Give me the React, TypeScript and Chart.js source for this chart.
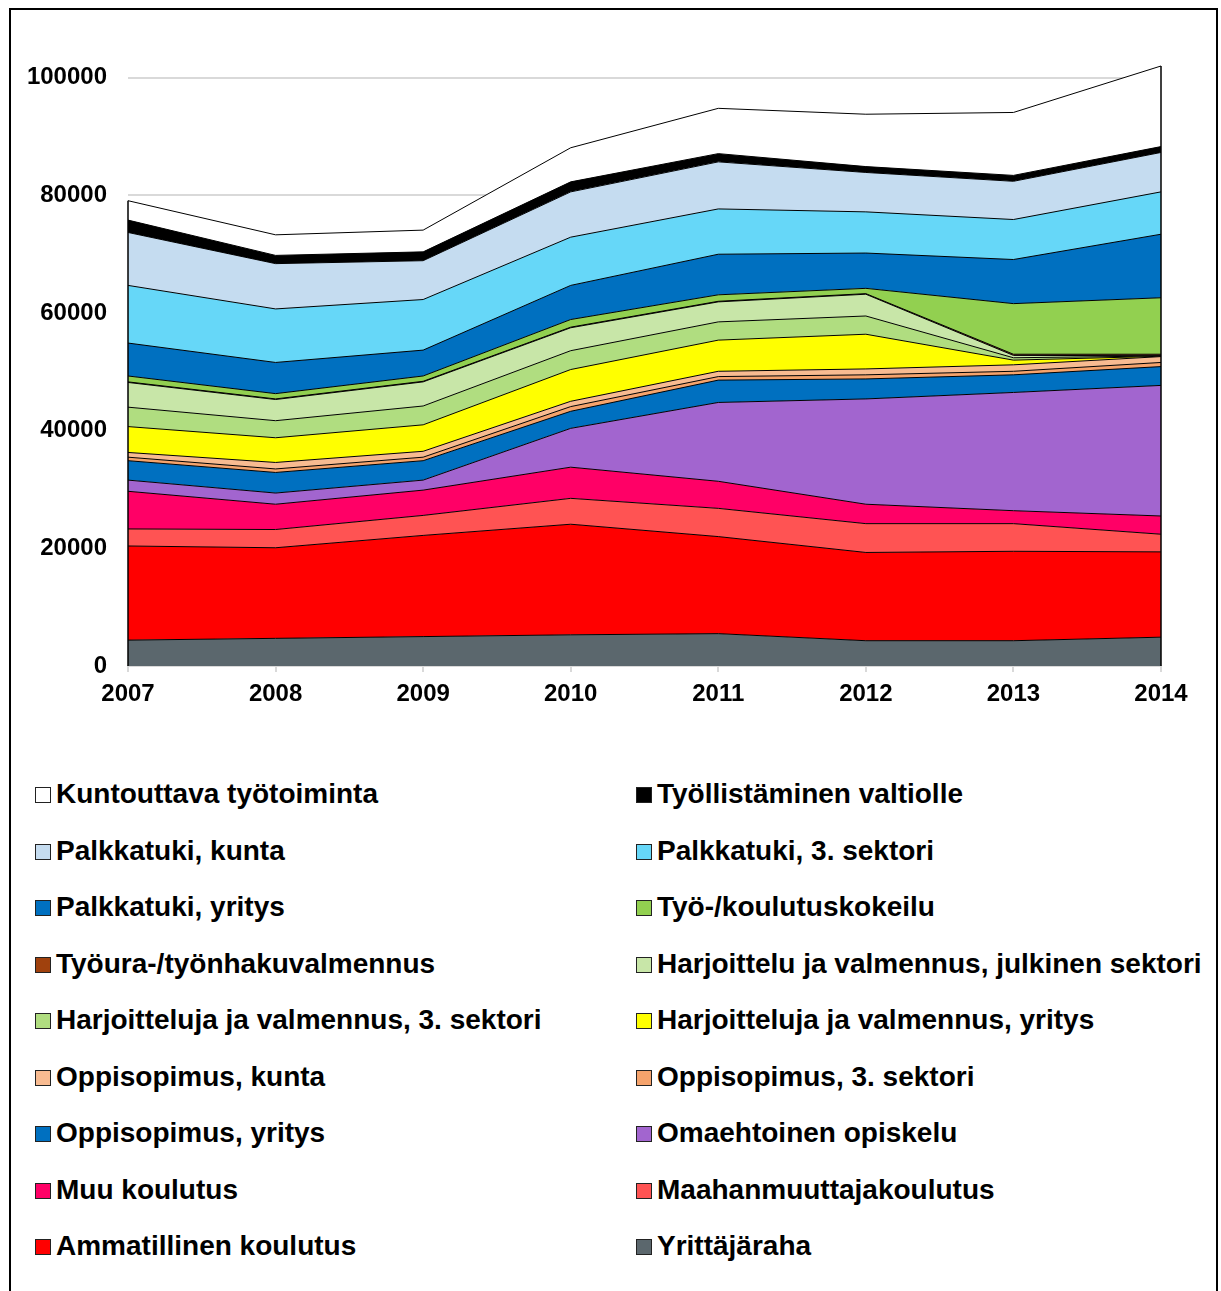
import React, { useEffect, useRef } from 'react';
import { Chart, registerables } from 'chart.js';

Chart.register(...registerables);

// ---- DATA (stack order: bottom -> top) ----
const years = ['2007', '2008', '2009', '2010', '2011', '2012', '2013', '2014'];

const yrittajaraha = [4400, 4700, 5000, 5300, 5500, 4300, 4300, 4900];
const ammatillinen = [16000, 15400, 17200, 18800, 16500, 15000, 15200, 14500];
const maahanmuuttaja = [2900, 3100, 3400, 4400, 4800, 4900, 4700, 3000];
const muuKoulutus = [6400, 4300, 4300, 5300, 4600, 3300, 2200, 3100];
const omaehtoinen = [1900, 1900, 1700, 6600, 13400, 17900, 20100, 22200];
const oppiYritys = [3300, 3500, 3300, 2900, 3800, 3400, 3000, 3200];
const oppi3Sektori = [600, 600, 600, 800, 600, 700, 600, 700];
const oppiKunta = [800, 1100, 1000, 900, 900, 1000, 1100, 1000];
const harjYritys = [4400, 4200, 4500, 5400, 5300, 5900, 800, 50];
const harj3Sektori = [3300, 2900, 3200, 3200, 3100, 3100, 400, 50];
const harjJulkinen = [4200, 3600, 4100, 3900, 3400, 3700, 400, 50];
const tyoura = [100, 100, 100, 100, 100, 100, 200, 250];
const tyoKokeilu = [1000, 900, 900, 1300, 1100, 900, 8600, 9600];
const palkkaYritys = [5600, 5300, 4400, 5800, 6900, 6000, 7500, 10800];
const palkka3Sektori = [9800, 9100, 8600, 8200, 7700, 7000, 6800, 7200];
const palkkaKunta = [9000, 7700, 6600, 7700, 8000, 6700, 6500, 6700];
const valtiolle = [2100, 1400, 1500, 1700, 1400, 1000, 1000, 1000];
const kuntouttava = [3300, 3500, 3700, 5800, 7700, 8900, 10700, 13700];

const seriesNames = [
  'Yrittäjäraha',
  'Ammatillinen koulutus',
  'Maahanmuuttajakoulutus',
  'Muu koulutus',
  'Omaehtoinen opiskelu',
  'Oppisopimus, yritys',
  'Oppisopimus, 3. sektori',
  'Oppisopimus, kunta',
  'Harjoitteluja ja valmennus, yritys',
  'Harjoitteluja ja valmennus, 3. sektori',
  'Harjoittelu ja valmennus, julkinen sektori',
  'Työura-/työnhakuvalmennus',
  'Työ-/koulutuskokeilu',
  'Palkkatuki, yritys',
  'Palkkatuki, 3. sektori',
  'Palkkatuki, kunta',
  'Työllistäminen valtiolle',
  'Kuntouttava työtoiminta',
];

const seriesValues = [
  yrittajaraha, ammatillinen, maahanmuuttaja, muuKoulutus, omaehtoinen,
  oppiYritys, oppi3Sektori, oppiKunta, harjYritys, harj3Sektori, harjJulkinen,
  tyoura, tyoKokeilu, palkkaYritys, palkka3Sektori, palkkaKunta, valtiolle, kuntouttava,
];

const seriesColors = [
  '#5b676d', '#ff0000', '#ff5353', '#ff0066', '#a265cf',
  '#0070c0', '#f5a36c', '#f8bb91', '#ffff00', '#b0dd80', '#c8e6a8',
  '#a0410d', '#92d050', '#0070c0', '#66d7f8', '#c5dcf0', '#000000', '#ffffff',
];

const yTicks = [0, 20000, 40000, 60000, 80000, 100000];
const yMax = 107200;

const FONT = '"Liberation Sans", Arial, sans-serif';

// draws the vertical outline of the stacked area at the first and last category
const edgePlugin = {
  id: 'areaEdges',
  afterDatasetsDraw(chart: any) {
    const xs = chart.scales.x;
    const ys = chart.scales.y;
    const ctx = chart.ctx;
    const last = years.length - 1;
    ctx.save();
    ctx.strokeStyle = '#000';
    ctx.lineWidth = 1.5;
    [0, last].forEach((idx) => {
      const total = seriesValues.reduce((s, arr) => s + arr[idx], 0);
      const x = xs.getPixelForValue(idx);
      ctx.beginPath();
      ctx.moveTo(x, ys.getPixelForValue(0));
      ctx.lineTo(x, ys.getPixelForValue(total));
      ctx.stroke();
    });
    ctx.restore();
  },
};

function StackedAreaChart() {
  const ref = useRef<HTMLCanvasElement | null>(null);

  useEffect(() => {
    if (!ref.current) return;
    const datasets = seriesValues.map((vals, i) => ({
      label: seriesNames[i],
      data: vals,
      backgroundColor: seriesColors[i],
      borderColor: '#000000',
      borderWidth: 1,
      pointRadius: 0,
      pointHoverRadius: 0,
      tension: 0,
      fill: i === 0 ? 'origin' : '-1',
    }));

    const chart = new Chart(ref.current, {
      type: 'line',
      data: { labels: years, datasets },
      plugins: [edgePlugin],
      options: {
        animation: false,
        responsive: false,
        maintainAspectRatio: false,
        layout: { padding: { top: 0, right: 60, left: 0, bottom: 0 } },
        plugins: {
          legend: { display: false },
          tooltip: { enabled: false },
          title: { display: false },
        },
        scales: {
          x: {
            type: 'category',
            offset: false,
            grid: {
              drawOnChartArea: false,
              drawTicks: true,
              tickLength: 6,
              color: '#d9d9d9',
              lineWidth: 2,
            },
            border: { color: '#d9d9d9', width: 2 },
            ticks: {
              color: '#000',
              font: { family: FONT, size: 24, weight: 'bold' },
              padding: 8,
              maxRotation: 0,
              autoSkip: false,
            },
            afterFit: (scale: any) => {
              scale.height = 74;
            },
          },
          y: {
            stacked: true,
            min: 0,
            max: yMax,
            grid: {
              color: '#d9d9d9',
              lineWidth: 2,
              drawTicks: false,
            },
            border: { display: false },
            ticks: {
              stepSize: 20000,
              color: '#000',
              font: { family: FONT, size: 24, weight: 'bold' },
              padding: 21,
              callback: (v: any) => String(v),
            },
            afterBuildTicks: (scale: any) => {
              scale.ticks = yTicks.map((v) => ({ value: v }));
            },
            afterFit: (scale: any) => {
              scale.width = 128;
            },
          },
        },
      },
    });
    return () => chart.destroy();
  }, []);

  return (
    <canvas
      ref={ref}
      width={1221}
      height={740}
      style={{ position: 'absolute', left: 0, top: 0, width: 1221, height: 740 }}
    />
  );
}

function Legend() {
  const items = seriesNames
    .map((name, i) => ({ name, color: seriesColors[i] }))
    .reverse();
  return (
    <>
      {items.map((it, k) => {
        const row = Math.floor(k / 2);
        const col = k % 2;
        const cy = 794 + row * 56.5;
        const boxLeft = col === 0 ? 35 : 636;
        const textLeft = col === 0 ? 56 : 657;
        return (
          <React.Fragment key={it.name}>
            <div
              style={{
                position: 'absolute',
                left: boxLeft,
                top: cy - 7,
                width: 16,
                height: 16,
                boxSizing: 'border-box',
                background: it.color,
                border: '1px solid #222',
              }}
            />
            <div
              style={{
                position: 'absolute',
                left: textLeft,
                top: cy - 17,
                height: 34,
                lineHeight: '34px',
                fontFamily: FONT,
                fontWeight: 'bold',
                fontSize: 28,
                color: '#000',
                whiteSpace: 'nowrap',
              }}
            >
              {it.name}
            </div>
          </React.Fragment>
        );
      })}
    </>
  );
}

export default function App() {
  return (
    <div
      style={{
        position: 'absolute',
        left: 0,
        top: 0,
        width: 1221,
        height: 1291,
        overflow: 'hidden',
        background: '#fff',
      }}
    >
      <div
        style={{
          position: 'absolute',
          left: 9,
          top: 8,
          width: 1209,
          height: 1320,
          boxSizing: 'border-box',
          border: '2px solid #000',
        }}
      />
      <StackedAreaChart />
      <Legend />
    </div>
  );
}
